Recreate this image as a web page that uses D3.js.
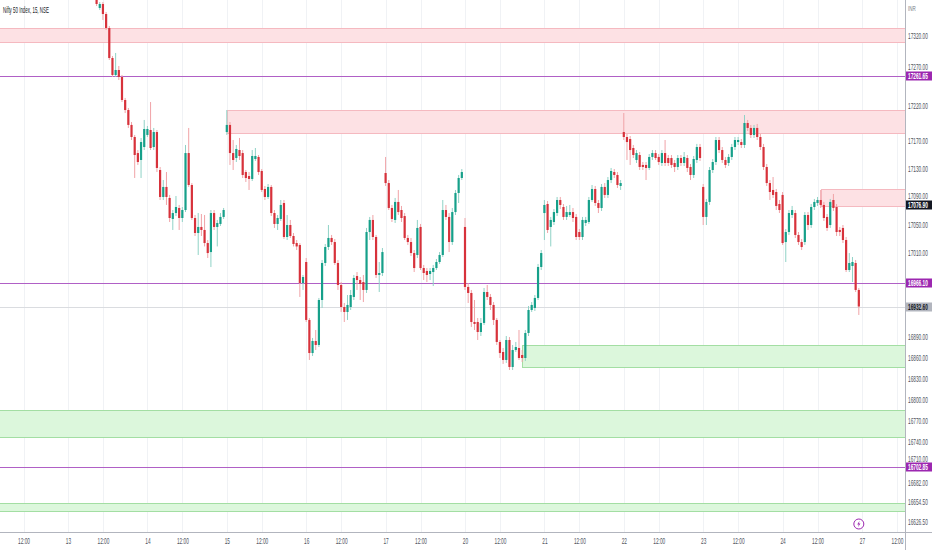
<!DOCTYPE html>
<html lang="en">
<head>
<meta charset="utf-8">
<title>Nifty 50 Index, 15, NSE</title>
<script src="https://cdn.jsdelivr.net/npm/d3@7"></script>
<style>
  body { margin: 0; background: #fff; }
  svg { display: block; }
</style>
</head>
<body>
<script>
// sessions on the time axis, 15 minute bars, 25 bars per session
var sessions = ["10", "13", "14", "15", "16", "17", "20", "21", "22", "23", "24", "27"];
var barsPerSession = 25;
var noonBar = 11;          // 12:00 bar inside a session

// bars as [open, high, low, close]
// the 13th opens above the visible range: first bar shown is bar 9
var first13 = 9;
var s13 = [
  [17381.4, 17387.1, 17361.4, 17364.3], [17358.6, 17367.1, 17355.7, 17364.3],
  [17364.3, 17367.1, 17341.5, 17350.0], [17350.0, 17352.9, 17327.2, 17330.0],
  [17330.0, 17332.9, 17284.4, 17287.2], [17287.2, 17290.1, 17260.1, 17263.0],
  [17263.0, 17294.4, 17260.1, 17270.1], [17270.1, 17275.8, 17255.8, 17260.1],
  [17260.1, 17263.0, 17224.4, 17227.3], [17227.3, 17230.2, 17208.7, 17213.0],
  [17213.0, 17215.9, 17187.4, 17191.7], [17191.7, 17195.9, 17170.2, 17174.5],
  [17174.5, 17177.4, 17116.0, 17148.8], [17151.6, 17155.9, 17134.6, 17138.8],
  [17141.7, 17173.1, 17116.0, 17167.3], [17160.2, 17198.8, 17155.9, 17185.9]
];
var s14 = [
  [17177.4, 17190.2, 17174.5, 17185.9], [17184.5, 17224.4, 17155.9, 17158.8],
  [17160.2, 17187.4, 17155.9, 17181.6], [17181.6, 17184.5, 17124.5, 17130.3],
  [17127.4, 17131.7, 17084.6, 17088.9], [17088.9, 17113.1, 17084.6, 17103.2],
  [17103.2, 17124.5, 17077.5, 17088.9], [17087.5, 17091.8, 17053.2, 17058.9],
  [17057.5, 17070.3, 17041.8, 17066.0], [17066.0, 17090.3, 17061.7, 17074.6],
  [17073.2, 17077.5, 17041.8, 17058.9], [17058.9, 17074.6, 17053.2, 17070.3],
  [17070.3, 17163.1, 17067.4, 17151.6], [17151.6, 17187.4, 17103.2, 17106.0],
  [17106.0, 17108.8, 17056.1, 17058.9], [17058.9, 17063.2, 17033.2, 17037.5],
  [17037.5, 17066.0, 17006.1, 17046.1], [17046.1, 17064.6, 17033.2, 17041.8],
  [17041.8, 17063.2, 17018.3, 17023.2], [17023.2, 17027.5, 17001.8, 17008.9],
  [17010.3, 17070.3, 16988.9, 17066.0], [17066.0, 17070.3, 17041.8, 17046.1],
  [17046.1, 17056.1, 17018.3, 17051.8], [17050.4, 17066.0, 17047.5, 17060.4],
  [17060.4, 17073.2, 17057.5, 17070.3]
];
var s15 = [
  [17181.6, 17213.0, 17177.4, 17191.7], [17191.7, 17195.9, 17134.6, 17151.6],
  [17151.6, 17170.2, 17127.4, 17141.7], [17144.5, 17163.1, 17138.8, 17157.4],
  [17155.9, 17173.1, 17141.7, 17147.4], [17151.6, 17155.9, 17116.0, 17120.3],
  [17124.5, 17127.4, 17110.3, 17116.0], [17118.8, 17124.5, 17098.9, 17114.6],
  [17114.6, 17155.9, 17111.7, 17147.4], [17143.1, 17158.8, 17140.3, 17147.4],
  [17146.0, 17148.8, 17120.3, 17124.5], [17126.0, 17128.8, 17096.0, 17098.9],
  [17100.3, 17104.6, 17084.6, 17088.9], [17088.9, 17107.4, 17086.1, 17103.2],
  [17103.2, 17106.0, 17061.7, 17066.0], [17066.0, 17070.3, 17044.7, 17050.4],
  [17050.4, 17063.2, 17041.8, 17058.9], [17057.5, 17084.6, 17054.6, 17077.5],
  [17080.3, 17084.6, 17028.9, 17031.8], [17031.8, 17063.2, 17027.5, 17048.9],
  [17048.9, 17056.1, 17030.4, 17033.2], [17033.2, 17037.5, 17018.3, 17021.8],
  [17023.2, 17027.5, 17013.2, 17018.3], [17020.4, 17023.2, 16946.2, 16966.1],
  [16966.1, 16977.6, 16956.2, 16974.7]
];
var s16 = [
  [16996.1, 17001.8, 16910.5, 16913.4], [16913.4, 16916.2, 16856.3, 16866.2],
  [16866.2, 16887.7, 16862.0, 16883.4], [16883.4, 16899.1, 16870.5, 16877.7],
  [16877.7, 16944.8, 16874.8, 16941.9], [16941.9, 16999.0, 16930.5, 16994.7],
  [16994.7, 17021.8, 16990.4, 17017.5], [17017.5, 17048.9, 17013.2, 17030.4],
  [17030.4, 17034.7, 17020.4, 17024.6], [17024.6, 17028.9, 16991.9, 16994.7],
  [16994.7, 16999.0, 16956.2, 16963.3], [16963.3, 16967.5, 16924.8, 16931.9],
  [16931.9, 16937.6, 16910.5, 16924.8], [16924.8, 16949.0, 16913.4, 16934.8],
  [16931.9, 16956.2, 16927.6, 16949.0], [16946.2, 16977.6, 16941.9, 16973.3],
  [16976.1, 16981.8, 16956.2, 16970.4], [16970.4, 16974.7, 16941.9, 16964.7],
  [16967.5, 16977.6, 16939.0, 16956.2], [16956.2, 17044.7, 16951.9, 17038.9],
  [17038.9, 17060.4, 17027.5, 17056.1], [17056.1, 17063.2, 17027.5, 17031.8],
  [17031.8, 17034.7, 16973.3, 16977.6], [16977.6, 16996.1, 16953.3, 16980.4],
  [16980.4, 17016.1, 16976.1, 17010.3]
];
var s17 = [
  [17123.1, 17146.0, 17104.6, 17108.8], [17108.8, 17113.1, 17070.3, 17073.2],
  [17073.2, 17077.5, 17053.2, 17057.5], [17056.1, 17087.5, 17051.8, 17081.8],
  [17081.8, 17098.9, 17063.2, 17067.4], [17070.3, 17076.1, 17053.2, 17058.9],
  [17061.7, 17066.0, 17027.5, 17030.4], [17030.4, 17034.7, 17020.4, 17024.6],
  [17024.6, 17030.4, 17004.6, 17008.9], [17008.9, 17013.2, 16981.8, 16987.5],
  [17006.1, 17056.1, 17001.8, 17044.7], [17046.1, 17050.4, 16984.7, 16987.5],
  [16987.5, 16991.9, 16970.4, 16980.4], [16983.3, 16987.5, 16967.5, 16977.6],
  [16979.0, 16987.5, 16970.4, 16983.3], [16981.8, 16991.9, 16961.8, 16987.5],
  [16987.5, 17000.4, 16984.7, 16996.1], [16996.1, 17010.3, 16993.3, 17006.1],
  [17006.1, 17084.6, 17003.2, 17070.3], [17070.3, 17077.5, 17056.1, 17060.4],
  [17060.4, 17066.0, 17010.3, 17024.6], [17024.6, 17073.2, 17020.4, 17067.4],
  [17067.4, 17098.9, 17063.2, 17094.6], [17094.6, 17120.3, 17080.3, 17116.0],
  [17116.0, 17128.8, 17113.1, 17124.5]
];
var s20 = [
  [17046.1, 17058.9, 16956.2, 16960.5], [16960.5, 16966.1, 16937.6, 16951.9],
  [16951.9, 16956.2, 16903.4, 16910.5], [16910.5, 16941.9, 16899.1, 16907.7],
  [16910.5, 16916.2, 16884.8, 16896.2], [16896.2, 16916.2, 16890.5, 16909.1],
  [16909.1, 16959.0, 16906.2, 16953.3], [16953.3, 16963.3, 16941.9, 16946.2],
  [16946.2, 16950.5, 16927.6, 16934.8], [16934.8, 16939.0, 16906.2, 16913.4],
  [16913.4, 16916.2, 16877.7, 16882.0], [16882.0, 16884.8, 16859.1, 16866.2],
  [16867.7, 16873.4, 16850.6, 16856.3], [16856.3, 16890.5, 16852.0, 16884.8],
  [16884.8, 16889.0, 16842.0, 16846.3], [16846.3, 16877.7, 16842.0, 16870.5],
  [16870.5, 16882.0, 16867.7, 16874.8], [16873.4, 16899.1, 16856.3, 16859.1],
  [16863.4, 16870.5, 16853.4, 16859.1], [16859.1, 16899.1, 16854.9, 16894.8],
  [16894.8, 16933.3, 16890.5, 16927.6], [16927.6, 16939.0, 16924.8, 16934.8],
  [16930.5, 16949.0, 16926.2, 16944.8], [16944.8, 16993.3, 16941.9, 16989.0],
  [16989.0, 17013.2, 16984.7, 17008.9]
];
var s21 = [
  [17066.0, 17084.6, 17027.5, 17077.5], [17078.9, 17083.2, 17037.5, 17041.8],
  [17046.1, 17060.4, 17018.3, 17056.1], [17053.2, 17071.7, 17048.9, 17067.4],
  [17066.0, 17088.9, 17061.7, 17084.6], [17084.6, 17088.9, 17071.7, 17077.5],
  [17074.6, 17078.9, 17056.1, 17060.4], [17060.4, 17076.1, 17056.1, 17067.4],
  [17063.2, 17077.5, 17060.4, 17067.4], [17067.4, 17073.2, 17053.2, 17058.9],
  [17060.4, 17064.6, 17027.5, 17031.8], [17038.9, 17043.2, 17027.5, 17031.8],
  [17031.8, 17060.4, 17027.5, 17056.1], [17051.8, 17060.4, 17047.5, 17056.1],
  [17053.2, 17088.9, 17050.4, 17084.6], [17084.6, 17106.0, 17081.8, 17100.3],
  [17100.3, 17104.6, 17076.1, 17080.3], [17080.3, 17084.6, 17066.0, 17073.2],
  [17073.2, 17107.4, 17068.9, 17103.2], [17103.2, 17108.8, 17087.5, 17091.8],
  [17091.8, 17117.4, 17087.5, 17113.1], [17113.1, 17130.3, 17108.8, 17126.0],
  [17124.5, 17128.8, 17116.0, 17120.3], [17120.3, 17124.5, 17101.7, 17106.0],
  [17104.6, 17113.1, 17098.9, 17108.8]
];
var s22 = [
  [17181.6, 17208.7, 17170.2, 17174.5], [17174.5, 17178.8, 17141.7, 17167.3],
  [17171.6, 17175.9, 17134.6, 17155.9], [17158.8, 17163.1, 17144.5, 17148.8],
  [17141.7, 17155.9, 17137.4, 17151.6], [17148.8, 17153.1, 17127.4, 17131.7],
  [17134.6, 17138.8, 17127.4, 17131.7], [17134.6, 17138.8, 17113.1, 17130.3],
  [17130.3, 17150.2, 17127.4, 17146.0], [17146.0, 17155.9, 17141.7, 17151.6],
  [17151.6, 17155.9, 17141.7, 17144.5], [17146.0, 17150.2, 17134.6, 17138.8],
  [17137.4, 17155.9, 17133.1, 17151.6], [17151.6, 17170.2, 17133.1, 17137.4],
  [17144.5, 17148.8, 17133.1, 17137.4], [17144.5, 17148.8, 17130.3, 17134.6],
  [17137.4, 17141.7, 17124.5, 17131.7], [17131.7, 17148.8, 17127.4, 17144.5],
  [17144.5, 17148.8, 17133.1, 17137.4], [17137.4, 17153.1, 17133.1, 17146.0],
  [17144.5, 17148.8, 17124.5, 17130.3], [17131.7, 17136.0, 17113.1, 17120.3],
  [17120.3, 17147.4, 17116.0, 17143.1], [17141.7, 17164.6, 17137.4, 17160.2],
  [17160.2, 17164.6, 17140.3, 17144.5]
];
var s23 = [
  [17103.2, 17107.4, 17048.9, 17060.4], [17060.4, 17086.1, 17048.9, 17081.8],
  [17081.8, 17131.7, 17077.5, 17127.4], [17127.4, 17143.1, 17123.1, 17138.8],
  [17138.8, 17174.5, 17134.6, 17170.2], [17170.2, 17174.5, 17151.6, 17155.9],
  [17155.9, 17160.2, 17137.4, 17141.7], [17141.7, 17146.0, 17130.3, 17134.6],
  [17137.4, 17150.2, 17133.1, 17146.0], [17146.0, 17164.6, 17141.7, 17160.2],
  [17160.2, 17174.5, 17155.9, 17170.2], [17167.3, 17174.5, 17163.1, 17170.2],
  [17167.3, 17171.6, 17158.8, 17163.1], [17163.1, 17205.9, 17158.8, 17194.5],
  [17194.5, 17198.8, 17183.1, 17187.4], [17187.4, 17191.7, 17173.1, 17177.4],
  [17177.4, 17191.7, 17173.1, 17187.4], [17187.4, 17193.1, 17170.2, 17174.5],
  [17174.5, 17178.8, 17155.9, 17160.2], [17160.2, 17164.6, 17127.4, 17131.7],
  [17131.7, 17136.0, 17104.6, 17108.8], [17108.8, 17113.1, 17084.6, 17096.0],
  [17098.9, 17117.4, 17087.5, 17091.8], [17096.0, 17100.3, 17070.3, 17076.1],
  [17078.9, 17084.6, 17066.0, 17070.3]
];
var s24 = [
  [17091.8, 17096.0, 17020.4, 17023.2], [17024.6, 17043.2, 16996.1, 17038.9],
  [17038.9, 17070.3, 17034.7, 17066.0], [17063.2, 17076.1, 17058.9, 17070.3],
  [17066.0, 17070.3, 17030.4, 17034.7], [17034.7, 17038.9, 17020.4, 17024.6],
  [17024.6, 17028.9, 17013.2, 17017.5], [17024.6, 17067.4, 17020.4, 17063.2],
  [17063.2, 17067.4, 17041.8, 17048.9], [17048.9, 17078.9, 17044.7, 17074.6],
  [17074.6, 17086.1, 17070.3, 17081.8], [17080.3, 17088.9, 17076.1, 17084.6],
  [17084.6, 17098.9, 17073.2, 17077.5], [17077.5, 17081.8, 17054.6, 17058.9],
  [17060.4, 17064.6, 17040.4, 17044.7], [17048.9, 17086.1, 17044.7, 17081.8],
  [17084.6, 17093.2, 17068.9, 17073.2], [17074.6, 17078.9, 17033.2, 17038.9],
  [17041.8, 17046.1, 17033.2, 17038.9], [17044.7, 17048.9, 17023.2, 17027.5],
  [17027.5, 17031.8, 16981.8, 16984.7], [16984.7, 17008.9, 16981.8, 16994.7],
  [16990.4, 17003.2, 16967.5, 16996.1], [16994.7, 16999.0, 16953.3, 16956.2],
  [16956.2, 16959.0, 16920.5, 16932.6]
];

// price scale labels
var priceTicks = [17320, 17270, 17220, 17170, 17130, 17090, 17050, 17010,
                  16890, 16860, 16830, 16800, 16770, 16740, 16710, 16682, 16654.5, 16626.5];

// drawn horizontal levels and zones [top, bottom, first bar]
var levels = [17261.65, 16966.10, 16702.85];
var supplyZones = [[17330.0, 17310.1, 0], [17213.0, 17180.2, 75], [17100.3, 17076.1, 262]];
var demandZones = [[16877.7, 16846.3, 168], [16784.9, 16746.4, 0], [16652.2, 16640.8, 0]];
var lastPrice = 16932.60;
var markPrice = 17076.90;
var eventBar = 274;

//Sizes
var w = 932, h = 550;
var plotW = 905, plotH = 532;
var squeeze = 0.56;
var font = "'Liberation Sans', Arial, sans-serif";
var upColor = "#16a08a", downColor = "#d7323b";
var upWick = "#8fd2c6", downWick = "#f0a3a7";
var purple = "#9c27b0";

// build the bar table
var bars = [];
[s13, s14, s15, s16, s17, s20, s21, s22, s23, s24].forEach(function(rows, k) {
  var offset = (k === 0) ? first13 : 0;
  rows.forEach(function(r, i) {
    bars.push({ slot: (k + 1) * barsPerSession + offset + i, o: r[0], h: r[1], l: r[2], c: r[3] });
  });
});

// Scales
var nSlots = sessions.length * barsPerSession;
var xScale = d3.scaleLinear()
  .domain([0, nSlots])
  .range([-11.4, -11.4 + nSlots * 3.176]);

var yScale = d3.scaleLinear()
  .domain([16610.8, 17370])
  .range([plotH, 0]);

// crisp 1px horizontal lines
var crisp = function(v) { return Math.round(v) + 0.5; };

// time ticks: session start and 12:00 of each session
var timeSlots = [];
sessions.forEach(function(s, k) {
  if (k > 0) timeSlots.push(k * barsPerSession);
  timeSlots.push(k * barsPerSession + noonBar);
});
var slotLabel = function(d) {
  return (d % barsPerSession === 0) ? sessions[d / barsPerSession] : "12:00";
};

//Create SVG element
var svg = d3.select("body")
  .append("svg")
  .attr("width", w)
  .attr("height", h)
  .style("font-family", font);

svg.append("rect").attr("width", w).attr("height", h).attr("fill", "#ffffff");

svg.append("clipPath").attr("id", "plotClip")
  .append("rect").attr("width", plotW).attr("height", plotH);

var plot = svg.append("g").attr("clip-path", "url(#plotClip)");

// vertical grid
plot.selectAll("line.grid")
  .data(timeSlots)
  .enter()
  .append("line")
  .attr("class", "grid")
  .attr("x1", function(d) { return crisp(xScale(d)); })
  .attr("x2", function(d) { return crisp(xScale(d)); })
  .attr("y1", 0)
  .attr("y2", plotH)
  .attr("stroke", "#f0f2f5");

// zones
var drawZones = function(data, fill, stroke) {
  plot.selectAll(null)
    .data(data)
    .enter()
    .append("rect")
    .attr("x", function(d) { return Math.max(-2, Math.round(xScale(d[2])) + 0.5); })
    .attr("y", function(d) { return crisp(yScale(d[0])); })
    .attr("width", function(d) { return plotW + 2 - Math.max(-2, Math.round(xScale(d[2]))); })
    .attr("height", function(d) { return Math.round(yScale(d[1]) - yScale(d[0])); })
    .attr("fill", fill)
    .attr("stroke", stroke)
    .attr("stroke-width", 1);
};
drawZones(supplyZones, "#fde1e4", "#f5b9c0");
drawZones(demandZones, "#dcf7dc", "#a3dea3");

// last price line
plot.append("line")
  .attr("x1", 0).attr("x2", plotW)
  .attr("y1", crisp(yScale(lastPrice))).attr("y2", crisp(yScale(lastPrice)))
  .attr("stroke", "#dadce0")
  .attr("stroke-width", 1);

// levels
plot.selectAll("line.level")
  .data(levels)
  .enter()
  .append("line")
  .attr("class", "level")
  .attr("x1", 0).attr("x2", plotW)
  .attr("y1", function(d) { return crisp(yScale(d)); })
  .attr("y2", function(d) { return crisp(yScale(d)); })
  .attr("stroke", "#b060c6")
  .attr("stroke-width", 1.2);

// candles
var candle = plot.selectAll("g.bar")
  .data(bars)
  .enter()
  .append("g")
  .attr("class", "bar");

candle.append("line")
  .attr("x1", function(d) { return xScale(d.slot); })
  .attr("x2", function(d) { return xScale(d.slot); })
  .attr("y1", function(d) { return yScale(d.h); })
  .attr("y2", function(d) { return yScale(d.l); })
  .attr("stroke", function(d) { return d.c >= d.o ? upWick : downWick; })
  .attr("stroke-width", 1);

candle.append("rect")
  .attr("x", function(d) { return xScale(d.slot) - 1.1; })
  .attr("y", function(d) { return yScale(Math.max(d.o, d.c)); })
  .attr("width", 2.2)
  .attr("height", function(d) { return Math.max(1, Math.abs(yScale(d.o) - yScale(d.c))); })
  .attr("fill", function(d) { return d.c >= d.o ? upColor : downColor; });

// event marker
var ev = svg.append("g")
  .attr("transform", "translate(" + xScale(eventBar) + "," + (plotH - 8) + ")");
ev.append("circle").attr("r", 5).attr("fill", "#fff").attr("stroke", purple).attr("stroke-width", 1);
ev.append("path").attr("d", "M0.8,-3.2 L-1.6,0.4 L0,0.4 L-0.8,3.2 L1.6,-0.4 L0,-0.4 Z").attr("fill", purple);

// price badges on the scale
var badges = levels.map(function(p) { return { p: p, bg: purple, fg: "#ffffff" }; });
badges.push({ p: markPrice, bg: "#131722", fg: "#ffffff" });
badges.push({ p: lastPrice, bg: "#b2b5be", fg: "#131722" });

// axes
var yAxis = d3.axisRight(yScale)
  .tickValues(priceTicks)
  .tickFormat(d3.format(".2f"))
  .tickSize(0)
  .tickPadding(0);

var gy = svg.append("g")
  .attr("transform", "translate(" + plotW + ",0)")
  .call(yAxis);
gy.attr("font-family", font).attr("font-size", 8.5);
gy.select(".domain").remove();
gy.selectAll("text")
  .attr("x", 0)
  .attr("dy", function(d) {
    // a label that runs into a badge sits just above it
    var yy = yScale(d), lift = 0;
    badges.forEach(function(b) {
      var by = yScale(b.p);
      if (by > yy && by - yy < 9.5) lift = Math.min(lift, (by - 9.5) - yy);
    });
    return (lift + 3) + "px";
  })
  .attr("transform", "translate(3,0) scale(" + squeeze + ",1)")
  .attr("fill", "#50535e");

var xAxis = d3.axisBottom(xScale)
  .tickValues(timeSlots)
  .tickFormat(slotLabel)
  .tickSize(0)
  .tickPadding(6);

var gx = svg.append("g")
  .attr("transform", "translate(0," + plotH + ")")
  .call(xAxis);
gx.attr("font-family", font).attr("font-size", 8.5);
gx.select(".domain").remove();
gx.selectAll("text")
  .attr("transform", "scale(" + squeeze + ",1)")
  .attr("fill", "#50535e");

svg.append("line")
  .attr("x1", 0).attr("x2", w)
  .attr("y1", plotH + 0.5).attr("y2", plotH + 0.5)
  .attr("stroke", "#b2b5be");
svg.append("line")
  .attr("x1", plotW + 0.5).attr("x2", plotW + 0.5)
  .attr("y1", 0).attr("y2", h)
  .attr("stroke", "#b2b5be");

var badge = svg.selectAll("g.badge")
  .data(badges)
  .enter()
  .append("g")
  .attr("class", "badge")
  .attr("transform", function(d) { return "translate(" + (plotW + 1) + "," + Math.round(yScale(d.p)) + ")"; });

badge.append("rect")
  .attr("x", 0).attr("y", -4.5)
  .attr("width", w - plotW - 1).attr("height", 9)
  .attr("fill", function(d) { return d.bg; });

badge.append("text")
  .attr("transform", "translate(2,3) scale(" + squeeze + ",1)")
  .attr("font-size", 8.5)
  .attr("font-weight", "bold")
  .attr("fill", function(d) { return d.fg; })
  .text(function(d) { return d3.format(".2f")(d.p); });

// currency and title
svg.append("text")
  .attr("transform", "translate(908,11) scale(" + squeeze + ",1)")
  .attr("font-size", 8)
  .attr("fill", "#787b86")
  .text("INR");

svg.append("text")
  .attr("transform", "translate(3,13) scale(0.52,1)")
  .attr("font-size", 8.5)
  .attr("fill", "#131722")
  .text("Nifty 50 Index, 15, NSE");
</script>
</body>
</html>
